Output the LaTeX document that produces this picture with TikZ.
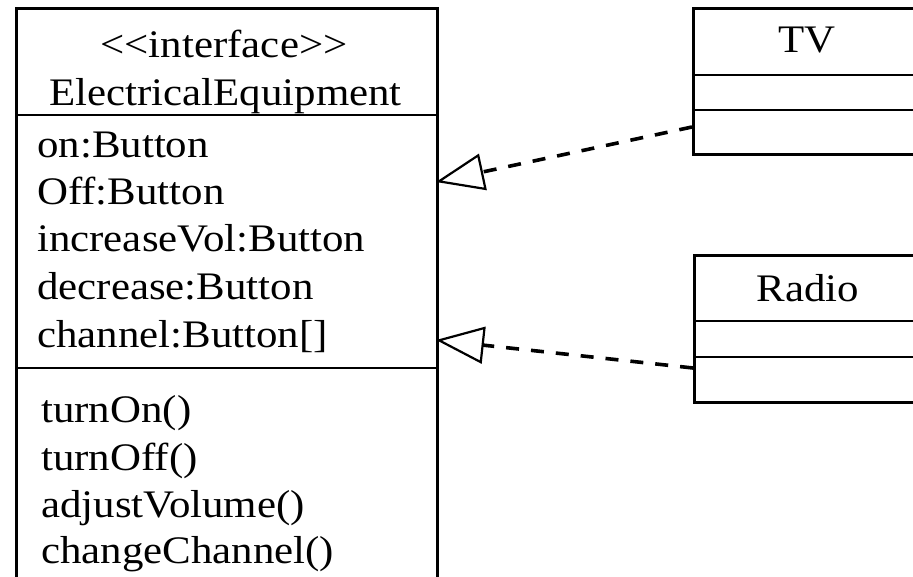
\documentclass[tikz,border=0pt]{standalone}
\usepackage{fontspec}
\setmainfont{Liberation Serif}[FakeStretch=1.1]
\usetikzlibrary{arrows.meta}

\tikzset{
  classbox/.style={draw, line width=2.8pt, rectangle, inner sep=0pt, anchor=north west},
  divider/.style={line width=2.8pt},
  label/.style={inner sep=0pt, font=\fontsize{39}{47}\selectfont},
  realize/.style={line width=3.6pt, dash pattern=on 13pt off 12pt,
    -{Triangle[open, length=48pt, width=37pt, line width=2.2pt]}}
}

\begin{document}
\begin{tikzpicture}[x=1pt, y=-1pt]
\useasboundingbox (0,0) rectangle (913,577);
\begin{scope}
\clip (0,0) rectangle (913,577);

% interface ElectricalEquipment (runs past the lower edge)
\node[classbox, minimum width=421pt, minimum height=600pt] (ee) at (15,7) {};
\draw[divider] (15,115) -- (436,115);
\draw[divider] (15,368) -- (436,368);
\node[label, anchor=base] (eestereo) at (224,58) {<{}<interface>{}>};
\node[label, anchor=base] (eename) at (225.5,106) {ElectricalEquipment};
\node[label, anchor=base west] (a1) at (37,158) {on:Button};
\node[label, anchor=base west] (a2) at (37,205) {Off:Button};
\node[label, anchor=base west] (a3) at (37,252) {increaseVol:Button};
\node[label, anchor=base west] (a4) at (37,300) {decrease:Button};
\node[label, anchor=base west] (a5) at (37,347) {channel:Button[]};
\node[label, anchor=base west] (m1) at (41,422) {turnOn()};
\node[label, anchor=base west] (m2) at (41,470) {turnOff()};
\node[label, anchor=base west] (m3) at (41,517) {adjustVolume()};
\node[label, anchor=base west] (m4) at (41,563) {changeChannel()};

% class TV
\node[classbox, minimum width=230pt, minimum height=146pt] (tv) at (692,7) {};
\draw[divider] (692,75) -- (930,75);
\draw[divider] (692,110) -- (930,110);
\node[label, anchor=base] (tvname) at (807,53) {TV};

% class Radio
\node[classbox, minimum width=230pt, minimum height=147pt] (radio) at (693,254) {};
\draw[divider] (693,321) -- (930,321);
\draw[divider] (693,357) -- (930,357);
\node[label, anchor=base] (radioname) at (808,302) {Radio};

% realization connectors
\coordinate (tvport) at (692,127);
\coordinate (eeport1) at (436,182);
\coordinate (radioport) at (693,368);
\coordinate (eeport2) at (436,340);
\draw[realize] (tvport) -- (eeport1);
\draw[realize] (radioport) -- (eeport2);
\end{scope}
\end{tikzpicture}
\end{document}
